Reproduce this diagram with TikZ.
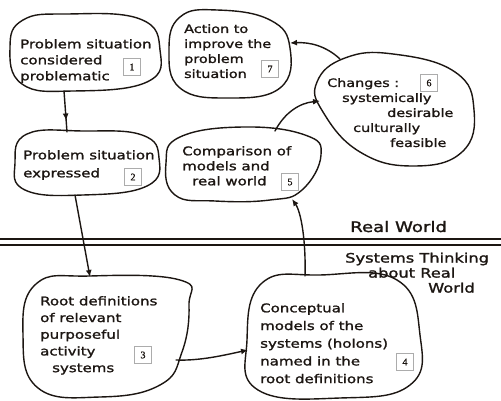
\documentclass[tikz,border=0pt]{standalone}
\usepackage{fontspec}
\setmainfont{DejaVu Sans}[FakeStretch=1.25, FakeBold=1.5]
\newfontfamily\numfont{Liberation Serif}[FakeBold=1]
\usetikzlibrary{arrows.meta,decorations.markings}

\definecolor{inkc}{HTML}{1C1612}

\begin{document}
\begin{tikzpicture}[x=1pt,y=-1pt,
  ink/.style={draw=inkc, line width=1.4pt, line join=round, line cap=round},
  blob/.style={ink},
  words/.style={anchor=north west, inner sep=0pt, align=left, text=inkc},
  numbox/.style={draw=gray!65, line width=0.9pt, fill=white, minimum size=17pt,
    inner sep=0pt, text=inkc, font=\numfont\fontsize{10}{10}\selectfont},
  link/.style={ink, -{Latex[length=7pt,width=6pt]}},
  midarrow/.style={ink, postaction=decorate,
    decoration={markings, mark=at position #1 with {\arrow{Latex[length=7pt,width=6pt]}}}},
]
\useasboundingbox (0,0) rectangle (501,401);
\fill[white] (0,0) rectangle (501,401);

% ---- outlines of the seven stages
\draw[blob] plot[smooth cycle, tension=0.75] coordinates
  {(10,47) (23,20) (67,14) (140,19) (160,50) (147,82) (73,91) (22,84)};
\draw[blob] plot[smooth cycle, tension=0.75] coordinates
  {(15,163) (27,134) (83,131) (142,135) (159,158) (147,186) (83,195) (25,190)};
\draw[blob] plot[smooth cycle, tension=0.75] coordinates
  {(23,335) (36,284) (90,276) (180,280) (189,305) (182,352) (160,385) (100,397) (38,388)};
\draw[blob] plot[smooth cycle, tension=0.75] coordinates
  {(247,340) (262,283) (320,275) (397,280) (420,335) (410,385) (340,398) (258,390)};
\draw[blob] plot[smooth cycle, tension=0.75] coordinates
  {(166,163) (180,137) (243,127) (305,135) (321,155) (302,190) (270,200) (215,201) (175,195)};
\draw[blob] plot[smooth cycle, tension=0.75] coordinates
  {(317,82) (345,58) (393,54) (455,72) (474,110) (462,152) (413,166) (360,152) (323,112)};
\draw[blob] plot[smooth cycle, tension=0.75] coordinates
  {(169,50) (180,17) (217,10) (270,20) (290,48) (280,88) (227,98) (180,88)};

% ---- texts of the stages
\node[words, font=\fontsize{12}{16}\selectfont] (t1) at (20,39)
  {Problem situation\\considered\\problematic};
\node[words, font=\fontsize{12}{18}\selectfont] (t2) at (23,150)
  {Problem situation\\expressed};
\node[words, font=\fontsize{12}{16.7}\selectfont] (t3) at (40,296)
  {Root definitions\\of relevant\\purposeful\\activity\\\hspace*{12pt}systems};
\node[words, font=\fontsize{12}{17.7}\selectfont] (t4) at (260,303)
  {Conceptual\\models of the\\systems (holons)\\named in the\\root definitions};
\node[words, font=\fontsize{12}{15}\selectfont] (t5) at (182,146)
  {Comparison of\\models and\\\hspace*{10pt}real world};
\node[words, font=\fontsize{11.5}{15}\selectfont] (t6) at (327,78)
  {Changes :\\\hspace*{15pt}systemically\\\hspace*{60pt}desirable\\\hspace*{26pt}culturally\\\hspace*{63pt}feasible};
\node[words, font=\fontsize{11.5}{15}\selectfont] (t7) at (184,24)
  {Action to\\improve the\\problem\\situation};

% ---- stage numbers
\node[numbox] (n1) at (132,67) {1};
\node[numbox] (n2) at (133,177) {2};
\node[numbox] (n3) at (143,355) {3};
\node[numbox] (n4) at (405,362) {4};
\node[numbox] (n5) at (290,182) {5};
\node[numbox] (n6) at (429,83) {6};
\node[numbox] (n7) at (270,69) {7};

% ---- boundary between the real world and systems thinking
\coordinate (wl1) at (0,239);  \coordinate (wr1) at (501,239);
\coordinate (wl2) at (0,245);  \coordinate (wr2) at (501,245);
\draw[ink] (wl1) -- (wr1);
\draw[ink] (wl2) -- (wr2);
\node[anchor=base west, inner sep=0pt, text=inkc, font=\fontsize{14.5}{14.5}\selectfont]
  (rw) at (350,232) {Real World};
\node[words, font=\fontsize{13}{15}\selectfont] (st) at (345,252.5)
  {Systems Thinking\\\hspace*{23pt}about Real\\\hspace*{83pt}World};

% ---- connection points on the outlines
\coordinate (o1s) at (64,91);
\coordinate (o2n) at (67,132);
\coordinate (o2s) at (75,195);
\coordinate (o3n) at (90,277);
\coordinate (o3e) at (176,360);
\coordinate (o4w) at (248,350);
\coordinate (o4n) at (305,276);
\coordinate (o5s) at (292,199);
\coordinate (o5n) at (275,131);
\coordinate (o6w) at (320,101);
\coordinate (o6n) at (340,59);
\coordinate (o7e) at (290,43);

% ---- connectors
\draw[midarrow=0.72] (o1s) -- (o2n);
\draw[link] (o2s) -- (o3n);
\draw[link] (o3e) .. controls (200,361) and (225,355) .. (o4w);
\draw[link] (o4n) .. controls (306,240) and (301,212) .. (o5s);
\draw[link] (o5n) .. controls (285,112) and (300,103) .. (o6w);
\draw[link] (o6n) .. controls (326,46) and (310,42) .. (o7e);
\end{tikzpicture}
\end{document}
